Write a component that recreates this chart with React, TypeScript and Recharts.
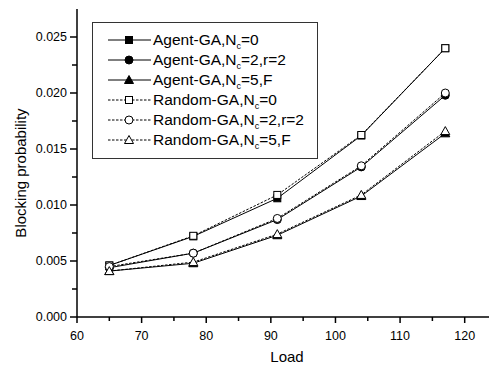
import { LineChart, Line, XAxis, YAxis, Legend } from "recharts";

const loads = [65, 78, 91, 104, 117];
const agentNc0 = [0.0046, 0.0072, 0.0106, 0.0162, 0.024];
const agentNc2 = [0.0044, 0.0057, 0.0087, 0.0134, 0.0198];
const agentNc5 = [0.0041, 0.0048, 0.0073, 0.0108, 0.0164];
const randomNc0 = [0.0046, 0.00725, 0.0109, 0.01625, 0.024];
const randomNc2 = [0.0045, 0.0057, 0.0088, 0.0135, 0.02];
const randomNc5 = [0.0041, 0.0049, 0.0074, 0.0109, 0.0166];

const xTicks = [60, 65, 70, 75, 80, 85, 90, 95, 100, 105, 110, 115, 120, 125];
const xLabels = [60, 70, 80, 90, 100, 110, 120];
const yTicks = [0, 0.0025, 0.005, 0.0075, 0.01, 0.0125, 0.015, 0.0175, 0.02, 0.0225, 0.025];
const yLabels = [0, 0.005, 0.01, 0.015, 0.02, 0.025];

const data = loads.map((load, i) => ({
  load,
  a0: agentNc0[i],
  a2: agentNc2[i],
  a5: agentNc5[i],
  r0: randomNc0[i],
  r2: randomNc2[i],
  r5: randomNc5[i],
}));

type Shape = "square" | "circle" | "triangle";

const Marker = ({ cx, cy, shape, filled }: { cx: number; cy: number; shape: Shape; filled: boolean }) => {
  const fill = filled ? "#000" : "#fff";
  if (shape === "square")
    return <rect x={cx - 3.5} y={cy - 3.5} width={7} height={7} fill={fill} stroke="#000" strokeWidth={1} />;
  if (shape === "circle") return <circle cx={cx} cy={cy} r={4} fill={fill} stroke="#000" strokeWidth={1} />;
  return (
    <polygon
      points={`${cx},${cy - 4.5} ${cx + 4.5},${cy + 3.5} ${cx - 4.5},${cy + 3.5}`}
      fill={fill}
      stroke="#000"
      strokeWidth={1}
    />
  );
};

const series = [
  { key: "a0", name: "Agent-GA,N", sub: "c", rest: "=0", shape: "square" as Shape, filled: true },
  { key: "a2", name: "Agent-GA,N", sub: "c", rest: "=2,r=2", shape: "circle" as Shape, filled: true },
  { key: "a5", name: "Agent-GA,N", sub: "c", rest: "=5,F", shape: "triangle" as Shape, filled: true },
  { key: "r0", name: "Random-GA,N", sub: "c", rest: "=0", shape: "square" as Shape, filled: false },
  { key: "r2", name: "Random-GA,N", sub: "c", rest: "=2,r=2", shape: "circle" as Shape, filled: false },
  { key: "r5", name: "Random-GA,N", sub: "c", rest: "=5,F", shape: "triangle" as Shape, filled: false },
];

const font = "Arial, 'Liberation Sans', sans-serif";

const XTick = (props: any) => {
  const { x, y, payload } = props;
  const major = xLabels.includes(payload.value);
  return (
    <g>
      <line x1={x} y1={y - 8} x2={x} y2={y - 8 + (major ? 6 : 4)} stroke="#000" strokeWidth={1.5} />
      {major && (
        <text x={x} y={y + 15} textAnchor="middle" fontSize={12.5} fontFamily={font} fill="#000">
          {payload.value}
        </text>
      )}
    </g>
  );
};

const YTick = (props: any) => {
  const { x, y, payload } = props;
  const major = yLabels.some((v) => Math.abs(v - payload.value) < 1e-9);
  const ax = x + 8;
  return (
    <g>
      <line x1={ax} y1={y} x2={ax - (major ? 7 : 5)} y2={y} stroke="#000" strokeWidth={1.5} />
      {major && (
        <text x={ax - 10} y={y + 4} textAnchor="end" fontSize={12.5} fontFamily={font} fill="#000">
          {payload.value.toFixed(3)}
        </text>
      )}
    </g>
  );
};

const LegendBox = () => (
  <div
    style={{
      border: "1px solid #333",
      background: "#fff",
      width: 226,
      height: 137,
      boxSizing: "border-box",
      padding: "7px 0 0 0",
      fontFamily: font,
      fontSize: 15.5,
      color: "#000",
    }}
  >
    {series.map((s) => (
      <div key={s.key} style={{ display: "flex", alignItems: "center", height: 20, flex: "none" }}>
        <svg width={45} height={20} style={{ marginLeft: 15, flex: "none", display: "block" }}>
          <line
            x1={0}
            y1={10}
            x2={43}
            y2={10}
            stroke="#000"
            strokeWidth={1}
            strokeDasharray={s.filled ? undefined : "2.5 1.5"}
          />
          <Marker cx={21} cy={10} shape={s.shape} filled={s.filled} />
        </svg>
        <span style={{ whiteSpace: "nowrap", lineHeight: "20px" }}>
          {s.name}
          <sub style={{ fontSize: 9, verticalAlign: "-4px", lineHeight: 0 }}>{s.sub}</sub>
          {s.rest}
        </span>
      </div>
    ))}
  </div>
);

export default function App() {
  return (
    <div style={{ width: 489, height: 359, background: "#fff" }}>
      <LineChart width={489} height={359} data={data} margin={{ top: 1, right: 0, bottom: 0, left: 0 }}>
        <XAxis
          dataKey="load"
          type="number"
          domain={[60, 125]}
          ticks={xTicks}
          interval={0}
          tick={<XTick />}
          tickLine={false}
          axisLine={{ stroke: "#000", strokeWidth: 1.5 }}
          height={50}
          label={(p: any) => {
            const vb = p.viewBox;
            return (
              <text
                x={vb.x + vb.width / 2}
                y={354}
                textAnchor="middle"
                fontSize={15}
                fontFamily={font}
                fill="#000"
              >
                Load
              </text>
            );
          }}
        />
        <YAxis
          type="number"
          domain={[0, 0.0275]}
          ticks={yTicks}
          interval={0}
          width={69}
          tick={<YTick />}
          tickLine={false}
          axisLine={{ stroke: "#000", strokeWidth: 1.5 }}
          label={(p: any) => {
            const vb = p.viewBox;
            const cx = 18;
            const cy = vb.y + vb.height / 2 + 10;
            return (
              <text
                x={cx}
                y={cy}
                transform={`rotate(-90 ${cx} ${cy})`}
                textAnchor="middle"
                fontSize={15}
                fontFamily={font}
                fill="#000"
              >
                Blocking probability
              </text>
            );
          }}
        />
        <Legend
          layout="horizontal"
          verticalAlign="middle"
          align="center"
          content={<LegendBox />}
          wrapperStyle={{
            position: "absolute",
            top: 14,
            left: 84,
            width: 226,
            height: 137,
            overflow: "visible",
          }}
        />
        {series.map((s) => (
          <Line
            key={s.key}
            dataKey={s.key}
            name={s.name}
            stroke="#000"
            strokeWidth={1}
            strokeDasharray={s.filled ? undefined : "2.5 1.5"}
            dot={(p: any) => <Marker key={`${s.key}-${p.index}`} cx={p.cx} cy={p.cy} shape={s.shape} filled={s.filled} />}
            activeDot={false}
            isAnimationActive={false}
          />
        ))}
      </LineChart>
    </div>
  );
}
